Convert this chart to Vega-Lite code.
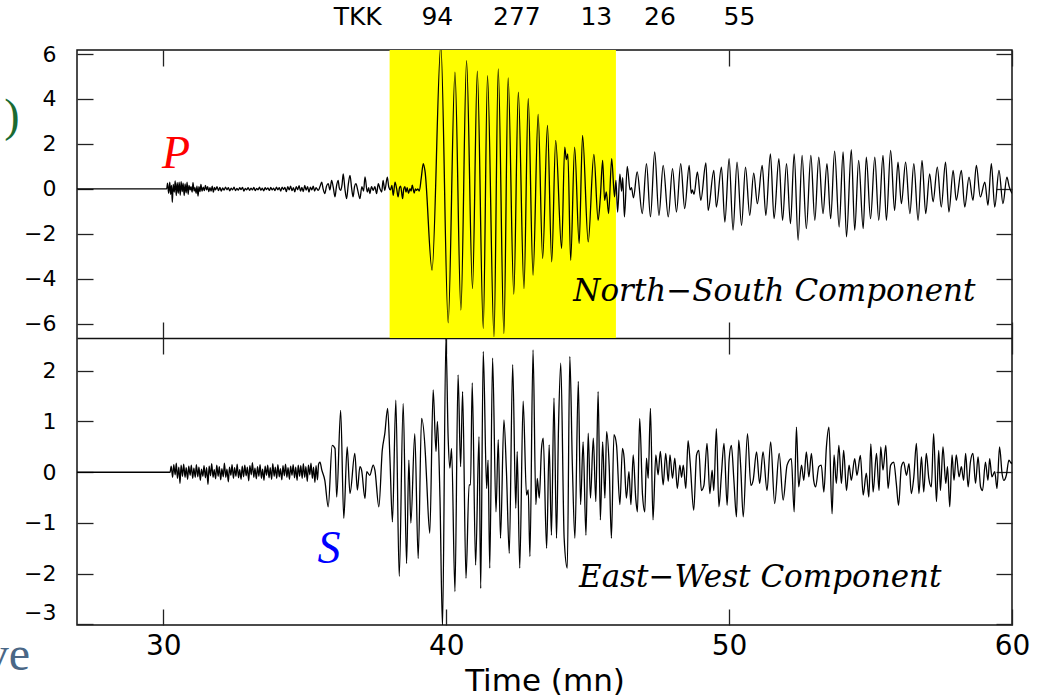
{
"$schema": "https://vega.github.io/schema/vega-lite/v6.json",
"autosize": {"type": "none"},
"width": 935,
"height": 575,
"padding": {"left": 77, "top": 50, "right": 35, "bottom": 74},
"background": "white",
"title": {"text": "TKK\u00a0\u00a0\u00a0\u00a0\u00a094\u00a0\u00a0\u00a0\u00a0\u00a0277\u00a0\u00a0\u00a0\u00a0\u00a013\u00a0\u00a0\u00a0\u00a026\u00a0\u00a0\u00a0\u00a0\u00a0\u00a055", "font": "DejaVu Sans", "fontSize": 25, "fontWeight": "normal", "color": "#000", "anchor": "middle", "frame": "group", "baseline": "alphabetic", "offset": -7},
"config": {
  "view": {"stroke": "#111", "strokeWidth": 1.5},
  "axis": {"labelFont": "DejaVu Sans", "labelColor": "#000", "tickColor": "#222", "tickWidth": 1.3, "titleFont": "DejaVu Sans", "titleFontWeight": "normal", "titleColor": "#000", "grid": false, "domain": false, "domainColor": "#111", "domainWidth": 1.6}
},
"resolve": {"scale": {"y": "independent"}, "axis": {"x": "independent", "y": "independent"}},
"datasets": {
"ns": [
{"t":26.95,"v":0},{"t":30.12,"v":0},{"t":30.15,"v":0.25},{"t":30.19,"v":-0.2},{"t":30.23,"v":0.3},{"t":30.26,"v":-0.25},{"t":30.29,"v":0.15},{"t":30.32,"v":-0.6},{"t":30.35,"v":0.2},{"t":30.39,"v":-0.15},{"t":30.42,"v":0.35},{"t":30.46,"v":-0.3},{"t":30.49,"v":0.28},{"t":30.53,"v":-0.2},{"t":30.56,"v":0.3},{"t":30.6,"v":-0.28},{"t":30.63,"v":0.32},{"t":30.67,"v":-0.12},{"t":30.7,"v":0.25},{"t":30.74,"v":-0.3},{"t":30.77,"v":0.22},{"t":30.81,"v":-0.18},{"t":30.84,"v":0.3},{"t":30.88,"v":-0.25},{"t":30.91,"v":0.15},{"t":30.95,"v":-0.05},{"t":30.98,"v":0.1},{"t":31.02,"v":-0.15},{"t":31.05,"v":0.28},{"t":31.09,"v":-0.1},{"t":31.12,"v":0.05},{"t":31.16,"v":-0.2},{"t":31.19,"v":0.12},{"t":31.23,"v":-0.32},{"t":31.26,"v":0.1},{"t":31.3,"v":-0.12},{"t":31.33,"v":0.2},{"t":31.37,"v":-0.1},{"t":31.41,"v":0.08},{"t":31.45,"v":-0.08},{"t":31.49,"v":0.15},{"t":31.53,"v":-0.05},{"t":31.57,"v":0.1},{"t":31.61,"v":-0.12},{"t":31.65,"v":0.05},{"t":31.69,"v":-0.1},{"t":31.73,"v":0.12},{"t":31.77,"v":-0.15},{"t":31.81,"v":0.06},{"t":31.85,"v":-0.05},{"t":31.9,"v":0.1},
{"t":31.95,"v":-0.08},{"t":32.0,"v":0.06},{"t":32.05,"v":-0.1},{"t":32.1,"v":0.04},{"t":32.15,"v":-0.06},{"t":32.2,"v":0.08},{"t":32.25,"v":-0.04},{"t":32.3,"v":0.05},{"t":32.35,"v":-0.09},{"t":32.4,"v":0.03},{"t":32.45,"v":-0.05},{"t":32.5,"v":0.07},{"t":32.55,"v":-0.08},{"t":32.6,"v":0.02},{"t":32.65,"v":-0.06},{"t":32.7,"v":0.05},{"t":32.75,"v":-0.03},{"t":32.8,"v":0.06},{"t":32.85,"v":-0.1},{"t":32.9,"v":0.02},{"t":32.95,"v":-0.04},{"t":33.0,"v":0.05},{"t":33.05,"v":-0.07},{"t":33.1,"v":0.03},{"t":33.15,"v":-0.05},{"t":33.2,"v":0.06},{"t":33.25,"v":-0.08},{"t":33.3,"v":0.02},{"t":33.35,"v":-0.04},{"t":33.4,"v":0.07},{"t":33.45,"v":-0.06},{"t":33.5,"v":0.03},{"t":33.55,"v":-0.09},{"t":33.6,"v":0.05},{"t":33.65,"v":-0.03},{"t":33.7,"v":0.04},{"t":33.75,"v":-0.07},{"t":33.8,"v":0.06},{"t":33.85,"v":-0.05},{"t":33.9,"v":0.03},{"t":33.95,"v":-0.08},{"t":34.0,"v":0.07},{"t":34.05,"v":-0.04},{"t":34.1,"v":0.05},{"t":34.15,"v":-0.1},{"t":34.2,"v":0.08},{"t":34.25,"v":-0.03},{"t":34.3,"v":0.06},{"t":34.35,"v":-0.12},{"t":34.4,"v":0.1},{"t":34.45,"v":-0.05},{"t":34.5,"v":0.12},{"t":34.55,"v":-0.08},{"t":34.6,"v":0.05},{"t":34.65,"v":-0.13},{"t":34.7,"v":0.1},{"t":34.75,"v":-0.04},{"t":34.8,"v":0.14},{"t":34.85,"v":-0.1},{"t":34.9,"v":0.06},{"t":34.95,"v":-0.12},{"t":35.0,"v":0.15},{"t":35.05,"v":-0.06},{"t":35.1,"v":0.1},{"t":35.15,"v":-0.14},{"t":35.2,"v":0.08},{"t":35.25,"v":-0.05},{"t":35.3,"v":0.12},{"t":35.35,"v":-0.1},{"t":35.4,"v":0.05},
{"t":35.48,"v":-0.07},{"t":35.54,"v":0.1},{"t":35.6,"v":0.3},{"t":35.65,"v":0.0},{"t":35.71,"v":-0.21},{"t":35.77,"v":0.12},{"t":35.83,"v":0.23},{"t":35.89,"v":-0.05},{"t":35.95,"v":0.38},{"t":36.01,"v":0.05},{"t":36.07,"v":-0.36},{"t":36.12,"v":0.1},{"t":36.18,"v":0.38},{"t":36.22,"v":0.05},{"t":36.27,"v":-0.07},{"t":36.32,"v":0.2},{"t":36.36,"v":0.67},{"t":36.42,"v":0.0},{"t":36.48,"v":-0.44},{"t":36.54,"v":0.2},{"t":36.6,"v":0.6},{"t":36.66,"v":0.0},{"t":36.71,"v":-0.36},{"t":36.76,"v":0.1},{"t":36.81,"v":0.23},{"t":36.88,"v":-0.1},{"t":36.95,"v":-0.44},{"t":37.02,"v":0.1},{"t":37.08,"v":-0.1},{"t":37.13,"v":0.53},{"t":37.21,"v":-0.14},{"t":37.26,"v":0.05},{"t":37.3,"v":-0.21},{"t":37.36,"v":0.1},{"t":37.42,"v":-0.07},{"t":37.48,"v":0.1},{"t":37.54,"v":-0.21},{"t":37.6,"v":0.23},{"t":37.66,"v":0.0},{"t":37.72,"v":-0.14},{"t":37.77,"v":0.38},{"t":37.83,"v":-0.07},{"t":37.92,"v":0.52},{"t":37.97,"v":0.08},{"t":38.03,"v":-0.05},{"t":38.08,"v":0.15},{"t":38.13,"v":-0.29},{"t":38.19,"v":0.3},{"t":38.25,"v":0.0},{"t":38.3,"v":-0.36},{"t":38.35,"v":0.05},{"t":38.39,"v":0.12},{"t":38.46,"v":-0.44},{"t":38.5,"v":0.0},{"t":38.54,"v":0.1},{"t":38.58,"v":-0.15},{"t":38.62,"v":0.05},{"t":38.67,"v":-0.2},{"t":38.72,"v":0.01},{"t":38.76,"v":-0.1},{"t":38.8,"v":0.16},{"t":38.87,"v":-0.19},{"t":38.91,"v":0.0},{"t":38.95,"v":-0.07},{"t":39.0,"v":0.0},{"t":39.05,"v":-0.1},{"t":39.12,"v":0.5},{"t":39.19,"v":1.12},{"t":39.25,"v":0.8},{"t":39.5,"v":-3.62},{"t":39.81,"v":6.4},{"t":40.07,"v":-5.96},{"t":40.31,"v":5.19},{"t":40.52,"v":-5.4},{"t":40.72,"v":5.71},{"t":40.93,"v":-4.44},{"t":41.1,"v":5.24},{"t":41.31,"v":-6.21},{"t":41.46,"v":5.04},{"t":41.69,"v":-6.58},{"t":41.84,"v":5.34},{"t":42.04,"v":-6.44},{"t":42.19,"v":4.94},{"t":42.39,"v":-4.69},{"t":42.55,"v":4.3},{"t":42.75,"v":-4.44},{"t":42.9,"v":4.01},{"t":43.07,"v":-3.84},{"t":43.25,"v":3.31},{"t":43.41,"v":-3.1},{"t":43.58,"v":2.82},{"t":43.73,"v":-3.25},{"t":43.87,"v":2.16},{"t":44.08,"v":-2.66},{"t":44.19,"v":1.86},{"t":44.25,"v":1.3},{"t":44.3,"v":1.56},{"t":44.4,"v":-3.18},{"t":44.54,"v":1.86},{"t":44.7,"v":-2.44},{"t":44.82,"v":2.38},{"t":45.02,"v":-2.36},{"t":45.22,"v":1.53},{"t":45.37,"v":-1.4},{"t":45.45,"v":-0.36},{"t":45.53,"v":1.27},{"t":45.6,"v":-0.51},{"t":45.66,"v":-0.14},{"t":45.74,"v":-1.1},{"t":45.85,"v":1.34},{"t":45.95,"v":-0.36},{"t":46.0,"v":0.38},{"t":46.06,"v":-1.03},{"t":46.14,"v":0.65},{"t":46.2,"v":-0.1},{"t":46.24,"v":0.5},{"t":46.3,"v":-1.25},{"t":46.4,"v":1.0},{"t":46.5,"v":-0.05},{"t":46.55,"v":0.05},{"t":46.62,"v":-0.4},{"t":46.75,"v":0.75},{"t":46.93,"v":-1.1},{"t":47.08,"v":1.12},{"t":47.22,"v":-1.25},{"t":47.37,"v":1.64},{"t":47.52,"v":-1.18},{"t":47.67,"v":1.04},{"t":47.85,"v":-1.25},{"t":48.0,"v":0.9},{"t":48.14,"v":-1.03},{"t":48.29,"v":1.12},{"t":48.43,"v":-0.88},{"t":48.59,"v":1.04},{"t":48.66,"v":-0.2},{"t":48.7,"v":-0.05},{"t":48.76,"v":-0.25},{"t":48.88,"v":0.75},{"t":49.0,"v":-0.51},{"t":49.18,"v":1.15},{"t":49.26,"v":-0.96},{"t":49.46,"v":0.82},{"t":49.55,"v":-0.81},{"t":49.73,"v":0.97},{"t":49.85,"v":-1.48},{"t":50.0,"v":1.34},{"t":50.14,"v":-1.84},{"t":50.28,"v":1.19},{"t":50.44,"v":-1.62},{"t":50.58,"v":0.97},{"t":50.73,"v":-1.18},{"t":50.87,"v":0.7},{"t":51.0,"v":-0.66},{"t":51.17,"v":1.04},{"t":51.3,"v":-1.18},{"t":51.46,"v":1.56},{"t":51.59,"v":-1.33},{"t":51.76,"v":1.34},{"t":51.89,"v":-1.4},{"t":52.03,"v":1.12},{"t":52.17,"v":-1.55},{"t":52.3,"v":1.56},{"t":52.44,"v":-2.29},{"t":52.58,"v":1.49},{"t":52.73,"v":-1.77},{"t":52.89,"v":1.49},{"t":53.03,"v":-1.4},{"t":53.17,"v":1.41},{"t":53.32,"v":-1.1},{"t":53.46,"v":1.12},{"t":53.59,"v":-1.33},{"t":53.73,"v":1.68},{"t":53.89,"v":-1.7},{"t":54.03,"v":1.64},{"t":54.15,"v":-2.14},{"t":54.32,"v":1.74},{"t":54.44,"v":-1.84},{"t":54.58,"v":1.27},{"t":54.74,"v":-1.77},{"t":54.85,"v":1.41},{"t":55.0,"v":-1.33},{"t":55.15,"v":1.41},{"t":55.29,"v":-1.4},{"t":55.44,"v":1.49},{"t":55.56,"v":-1.4},{"t":55.71,"v":1.71},{"t":55.85,"v":-0.96},{"t":55.97,"v":1.19},{"t":56.09,"v":-0.66},{"t":56.24,"v":1.19},{"t":56.39,"v":-1.1},{"t":56.53,"v":1.12},{"t":56.68,"v":-1.4},{"t":56.82,"v":1.27},{"t":56.95,"v":-1.1},{"t":57.09,"v":0.67},{"t":57.21,"v":-0.58},{"t":57.36,"v":0.97},{"t":57.5,"v":-0.81},{"t":57.65,"v":1.19},{"t":57.77,"v":-1.03},{"t":57.92,"v":0.82},{"t":58.03,"v":-0.51},{"t":58.21,"v":0.82},{"t":58.33,"v":-0.81},{"t":58.48,"v":0.52},{"t":58.62,"v":-0.51},{"t":58.74,"v":1.04},{"t":58.88,"v":-0.36},{"t":59.04,"v":0.3},{"t":59.15,"v":-0.73},{"t":59.27,"v":1.12},{"t":59.39,"v":-0.81},{"t":59.54,"v":0.82},{"t":59.68,"v":-0.66},{"t":59.82,"v":0.52},{"t":59.9,"v":0.1},{"t":60.0,"v":-0.2}
],
"ew": [
{"t":26.95,"v":0},{"t":30.24,"v":0},{"t":30.28,"v":0.12},{"t":30.33,"v":-0.1},{"t":30.37,"v":0.15},{"t":30.42,"v":-0.05},{"t":30.46,"v":0.18},{"t":30.5,"v":-0.12},{"t":30.55,"v":0.1},{"t":30.59,"v":-0.22},{"t":30.63,"v":0.14},{"t":30.68,"v":-0.08},{"t":30.72,"v":0.16},{"t":30.77,"v":-0.1},{"t":30.81,"v":0.09},{"t":30.86,"v":-0.14},{"t":30.9,"v":0.12},{"t":30.95,"v":-0.06},{"t":30.99,"v":0.14},{"t":31.04,"v":-0.12},{"t":31.08,"v":0.08},{"t":31.13,"v":-0.1},{"t":31.17,"v":0.15},{"t":31.22,"v":-0.09},{"t":31.26,"v":0.1},{"t":31.31,"v":-0.16},{"t":31.35,"v":0.06},{"t":31.4,"v":-0.08},{"t":31.44,"v":0.13},{"t":31.49,"v":-0.11},{"t":31.53,"v":0.09},{"t":31.58,"v":-0.24},{"t":31.62,"v":0.12},{"t":31.67,"v":-0.07},{"t":31.71,"v":0.17},{"t":31.76,"v":-0.1},{"t":31.8,"v":0.05},{"t":31.85,"v":-0.13},{"t":31.89,"v":0.14},{"t":31.94,"v":-0.08},{"t":31.98,"v":0.11},{"t":32.03,"v":-0.15},{"t":32.07,"v":0.07},{"t":32.12,"v":-0.09},{"t":32.16,"v":0.18},{"t":32.21,"v":-0.1},{"t":32.25,"v":0.06},{"t":32.3,"v":-0.19},{"t":32.34,"v":0.1},{"t":32.39,"v":-0.06},{"t":32.43,"v":0.15},{"t":32.48,"v":-0.12},{"t":32.52,"v":0.09},{"t":32.57,"v":-0.08},{"t":32.61,"v":0.16},{"t":32.66,"v":-0.11},{"t":32.7,"v":0.05},{"t":32.75,"v":-0.14},{"t":32.79,"v":0.12},{"t":32.84,"v":-0.09},{"t":32.88,"v":0.14},{"t":32.93,"v":-0.07},{"t":32.97,"v":0.1},{"t":33.02,"v":-0.17},{"t":33.06,"v":0.13},{"t":33.11,"v":-0.05},{"t":33.15,"v":0.19},{"t":33.2,"v":-0.1},{"t":33.24,"v":0.08},{"t":33.29,"v":-0.13},{"t":33.33,"v":0.11},{"t":33.38,"v":-0.08},{"t":33.42,"v":0.15},{"t":33.47,"v":-0.12},{"t":33.51,"v":0.06},{"t":33.56,"v":-0.16},{"t":33.6,"v":0.12},{"t":33.65,"v":-0.06},{"t":33.69,"v":0.14},{"t":33.74,"v":-0.11},{"t":33.78,"v":0.09},{"t":33.83,"v":-0.14},{"t":33.87,"v":0.17},{"t":33.92,"v":-0.08},{"t":33.96,"v":0.1},{"t":34.01,"v":-0.12},{"t":34.05,"v":0.15},{"t":34.1,"v":-0.09},{"t":34.14,"v":0.07},{"t":34.19,"v":-0.15},{"t":34.23,"v":0.13},{"t":34.28,"v":-0.07},{"t":34.32,"v":0.16},{"t":34.37,"v":-0.1},{"t":34.41,"v":0.09},{"t":34.46,"v":-0.14},{"t":34.5,"v":0.12},{"t":34.55,"v":-0.06},{"t":34.59,"v":0.15},{"t":34.64,"v":-0.11},{"t":34.68,"v":0.1},{"t":34.73,"v":-0.16},{"t":34.77,"v":0.14},{"t":34.82,"v":-0.08},{"t":34.86,"v":0.13},{"t":34.91,"v":-0.12},{"t":34.95,"v":0.17},{"t":35.0,"v":-0.1},{"t":35.04,"v":0.11},{"t":35.09,"v":-0.18},{"t":35.13,"v":0.14},{"t":35.18,"v":-0.05},{"t":35.22,"v":0.18},{"t":35.27,"v":-0.12},{"t":35.31,"v":0.1},{"t":35.36,"v":-0.2},{"t":35.4,"v":0.13},{"t":35.45,"v":-0.15},{"t":35.49,"v":0.16},{"t":35.54,"v":0.2},{"t":35.6,"v":0.05},{"t":35.71,"v":-0.16},{"t":35.83,"v":-0.68},{"t":35.97,"v":0.53},{"t":36.07,"v":0.47},{"t":36.13,"v":-0.49},{"t":36.27,"v":1.22},{"t":36.38,"v":-0.91},{"t":36.5,"v":0.5},{"t":36.6,"v":-0.42},{"t":36.77,"v":0.37},{"t":36.86,"v":-0.35},{"t":36.95,"v":0.11},{"t":37.01,"v":0.04},{"t":37.13,"v":-0.52},{"t":37.19,"v":0.01},{"t":37.3,"v":-0.06},{"t":37.42,"v":0.14},{"t":37.48,"v":0.04},{"t":37.62,"v":-0.68},{"t":37.74,"v":0.43},{"t":37.83,"v":0.76},{"t":37.93,"v":1.26},{"t":38.01,"v":0.3},{"t":38.1,"v":-0.98},{"t":38.22,"v":1.42},{"t":38.34,"v":-2.05},{"t":38.48,"v":1.35},{"t":38.6,"v":-1.8},{"t":38.68,"v":0.24},{"t":38.75,"v":-1.0},{"t":38.89,"v":0.76},{"t":39.01,"v":-1.7},{"t":39.13,"v":1.06},{"t":39.27,"v":0.3},{"t":39.31,"v":-0.16},{"t":39.42,"v":-1.2},{"t":39.54,"v":1.62},{"t":39.64,"v":0.41},{"t":39.69,"v":1.0},{"t":39.78,"v":-0.5},{"t":39.87,"v":-3.05},{"t":39.99,"v":2.63},{"t":40.07,"v":0.67},{"t":40.13,"v":0.08},{"t":40.19,"v":0.47},{"t":40.31,"v":-2.35},{"t":40.42,"v":1.92},{"t":40.51,"v":0.11},{"t":40.58,"v":1.59},{"t":40.7,"v":-2.09},{"t":40.81,"v":-0.25},{"t":40.86,"v":-0.25},{"t":40.92,"v":1.76},{"t":41.04,"v":-1.83},{"t":41.16,"v":0.7},{"t":41.22,"v":-2.29},{"t":41.31,"v":2.38},{"t":41.43,"v":-0.32},{"t":41.48,"v":0.24},{"t":41.54,"v":-1.89},{"t":41.64,"v":2.25},{"t":41.76,"v":-0.78},{"t":41.84,"v":0.64},{"t":41.92,"v":-1.3},{"t":42.04,"v":1.03},{"t":42.13,"v":0.01},{"t":42.23,"v":-1.6},{"t":42.35,"v":2.12},{"t":42.46,"v":-0.71},{"t":42.51,"v":0.41},{"t":42.6,"v":-1.89},{"t":42.72,"v":1.4},{"t":42.84,"v":-0.45},{"t":42.9,"v":-0.35},{"t":42.96,"v":-1.66},{"t":43.07,"v":2.41},{"t":43.17,"v":-0.64},{"t":43.22,"v":-0.12},{"t":43.29,"v":-0.51},{"t":43.37,"v":0.47},{"t":43.43,"v":0.67},{"t":43.55,"v":-1.5},{"t":43.64,"v":0.54},{"t":43.72,"v":-1.24},{"t":43.81,"v":1.46},{"t":43.9,"v":-1.3},{"t":43.97,"v":0.87},{"t":44.05,"v":2.15},{"t":44.17,"v":-1.3},{"t":44.28,"v":-1.89},{"t":44.37,"v":2.28},{"t":44.46,"v":0.14},{"t":44.55,"v":-1.3},{"t":44.67,"v":1.79},{"t":44.75,"v":-0.64},{"t":44.84,"v":0.6},{"t":44.94,"v":-1.24},{"t":45.02,"v":0.77},{"t":45.1,"v":-0.51},{"t":45.2,"v":0.67},{"t":45.29,"v":-0.58},{"t":45.37,"v":1.59},{"t":45.45,"v":-0.94},{"t":45.53,"v":0.6},{"t":45.61,"v":-0.51},{"t":45.67,"v":0.8},{"t":45.76,"v":0.14},{"t":45.84,"v":-1.3},{"t":45.93,"v":0.74},{"t":46.02,"v":0.54},{"t":46.14,"v":-0.64},{"t":46.23,"v":0.47},{"t":46.29,"v":0.28},{"t":46.37,"v":-0.51},{"t":46.46,"v":0.01},{"t":46.53,"v":-0.64},{"t":46.61,"v":0.34},{"t":46.7,"v":-0.51},{"t":46.76,"v":-0.78},{"t":46.84,"v":1.06},{"t":46.94,"v":-0.45},{"t":47.02,"v":-0.78},{"t":47.08,"v":0.28},{"t":47.14,"v":-0.12},{"t":47.22,"v":1.26},{"t":47.31,"v":-0.94},{"t":47.41,"v":0.34},{"t":47.49,"v":-0.05},{"t":47.57,"v":0.41},{"t":47.67,"v":-0.25},{"t":47.76,"v":0.37},{"t":47.85,"v":-0.18},{"t":47.91,"v":0.34},{"t":48.0,"v":-0.12},{"t":48.08,"v":0.28},{"t":48.17,"v":-0.32},{"t":48.26,"v":0.14},{"t":48.32,"v":-0.1},{"t":48.38,"v":0.14},{"t":48.47,"v":-0.32},{"t":48.55,"v":0.62},{"t":48.62,"v":0.22},{"t":48.75,"v":-0.75},{"t":48.85,"v":0.34},{"t":48.93,"v":0.43},{"t":49.02,"v":-0.36},{"t":49.11,"v":-0.26},{"t":49.22,"v":0.57},{"t":49.32,"v":-0.42},{"t":49.4,"v":0.04},{"t":49.46,"v":-0.36},{"t":49.55,"v":0.86},{"t":49.64,"v":-0.68},{"t":49.73,"v":-0.03},{"t":49.82,"v":0.57},{"t":49.93,"v":-0.65},{"t":50.0,"v":0.24},{"t":50.08,"v":0.53},{"t":50.17,"v":-0.16},{"t":50.26,"v":-0.88},{"t":50.34,"v":0.63},{"t":50.41,"v":0.11},{"t":50.5,"v":-0.88},{"t":50.65,"v":0.76},{"t":50.77,"v":-0.26},{"t":50.85,"v":-0.16},{"t":50.97,"v":0.4},{"t":51.08,"v":-0.22},{"t":51.2,"v":0.4},{"t":51.34,"v":-0.36},{"t":51.47,"v":0.6},{"t":51.61,"v":-0.62},{"t":51.77,"v":0.37},{"t":51.91,"v":-0.55},{"t":52.05,"v":0.14},{"t":52.2,"v":0.27},{"t":52.3,"v":-0.78},{"t":52.38,"v":0.89},{"t":52.46,"v":-0.29},{"t":52.56,"v":0.14},{"t":52.64,"v":-0.16},{"t":52.73,"v":0.4},{"t":52.82,"v":-0.09},{"t":52.91,"v":0.37},{"t":52.99,"v":-0.16},{"t":53.06,"v":-0.29},{"t":53.17,"v":0.11},{"t":53.26,"v":0.14},{"t":53.35,"v":-0.39},{"t":53.44,"v":0.5},{"t":53.53,"v":0.89},{"t":53.64,"v":-0.82},{"t":53.71,"v":0.34},{"t":53.79,"v":-0.22},{"t":53.88,"v":0.53},{"t":53.97,"v":-0.22},{"t":54.05,"v":0.43},{"t":54.15,"v":-0.36},{"t":54.24,"v":0.14},{"t":54.32,"v":-0.16},{"t":54.44,"v":0.27},{"t":54.52,"v":-0.06},{"t":54.64,"v":0.33},{"t":54.74,"v":-0.45},{"t":54.85,"v":-0.02},{"t":54.94,"v":-0.49},{"t":55.01,"v":0.56},{"t":55.09,"v":-0.39},{"t":55.21,"v":0.37},{"t":55.3,"v":-0.36},{"t":55.36,"v":0.5},{"t":55.44,"v":0.04},{"t":55.54,"v":0.53},{"t":55.62,"v":-0.32},{"t":55.71,"v":0.14},{"t":55.82,"v":0.2},{"t":55.91,"v":-0.22},{"t":55.99,"v":-0.65},{"t":56.09,"v":0.11},{"t":56.17,"v":0.2},{"t":56.27,"v":-0.06},{"t":56.36,"v":0.17},{"t":56.44,"v":-0.42},{"t":56.53,"v":-0.09},{"t":56.62,"v":0.57},{"t":56.71,"v":-0.42},{"t":56.8,"v":0.3},{"t":56.88,"v":-0.39},{"t":56.97,"v":0.37},{"t":57.06,"v":-0.12},{"t":57.15,"v":-0.29},{"t":57.23,"v":0.76},{"t":57.33,"v":-0.58},{"t":57.41,"v":0.43},{"t":57.47,"v":-0.36},{"t":57.56,"v":0.5},{"t":57.66,"v":-0.22},{"t":57.72,"v":0.11},{"t":57.8,"v":-0.68},{"t":57.88,"v":0.34},{"t":57.95,"v":-0.16},{"t":58.03,"v":0.34},{"t":58.13,"v":-0.09},{"t":58.21,"v":0.11},{"t":58.29,"v":-0.16},{"t":58.36,"v":0.37},{"t":58.45,"v":-0.29},{"t":58.53,"v":0.2},{"t":58.62,"v":0.37},{"t":58.71,"v":-0.22},{"t":58.8,"v":0.3},{"t":58.89,"v":-0.29},{"t":58.96,"v":-0.36},{"t":59.06,"v":0.2},{"t":59.15,"v":-0.16},{"t":59.21,"v":0.27},{"t":59.29,"v":-0.09},{"t":59.39,"v":0.01},{"t":59.47,"v":-0.32},{"t":59.56,"v":0.5},{"t":59.65,"v":-0.03},{"t":59.71,"v":-0.16},{"t":59.8,"v":-0.06},{"t":59.89,"v":0.24},{"t":59.98,"v":0.17},{"t":60.0,"v":0.2}
]
},
"layer": [
  {"data": {"values": [{"s": 38, "e": 46}]},
   "mark": {"type": "rect", "color": "#ffff00"},
   "encoding": {
     "x": {"field": "s", "type": "quantitative", "scale": {"domain": [26.95, 60], "nice": false, "zero": false}, "axis": null},
     "x2": {"field": "e"},
     "y": {"datum": 6.18, "type": "quantitative", "scale": {"domain": [-19.415, 6.18], "nice": false, "zero": false}, "axis": null},
     "y2": {"datum": -6.64}}},
  {"data": {"name": "ns"},
   "mark": {"type": "line", "color": "#000", "strokeWidth": 1.3, "clip": true, "interpolate": "monotone"},
   "encoding": {
     "x": {"field": "t", "type": "quantitative", "scale": {"domain": [26.95, 60], "nice": false, "zero": false},
           "axis": {"orient": "bottom", "offset": -287, "values": [30, 40, 50, 60], "labels": false, "title": null, "tickSize": -16, "domain": true}},
     "y": {"field": "v", "type": "quantitative", "scale": {"domain": [-19.415, 6.18], "nice": false, "zero": false},
           "axis": {"orient": "left", "values": [-6, -4, -2, 0, 2, 4, 6], "title": null, "tickSize": -16, "labelPadding": 37, "labelFontSize": 22}}}},
  {"data": {"name": "ew"},
   "mark": {"type": "line", "color": "#000", "strokeWidth": 1.3, "clip": true, "interpolate": "monotone"},
   "encoding": {
     "x": {"field": "t", "type": "quantitative", "scale": {"domain": [26.95, 60], "nice": false, "zero": false},
           "axis": {"orient": "bottom", "values": [30, 40, 50, 60], "title": "Time (mn)", "tickSize": -16, "labelFontSize": 28, "labelPadding": 23, "labelFlush": false, "titleFontSize": 31, "titlePadding": 6}},
     "y": {"field": "v", "type": "quantitative", "scale": {"domain": [-3.01, 8.3196], "nice": false, "zero": false},
           "axis": {"orient": "left", "values": [-3, -2, -1, 0, 1, 2], "title": null, "tickSize": -16, "labelPadding": 37, "labelFontSize": 22, "labelFlush": 2}}}},
  {"data": {"values": [{"t": 51.6, "v": -4.6, "txt": "North\u2212South Component"}]},
   "mark": {"type": "text", "font": "DejaVu Serif", "fontStyle": "italic", "fontSize": 31, "color": "#000", "align": "center", "baseline": "middle"},
   "encoding": {
     "x": {"field": "t", "type": "quantitative", "scale": {"domain": [26.95, 60], "nice": false, "zero": false},
           "axis": {"orient": "top", "values": [30, 40, 50, 60], "labels": false, "title": null, "tickSize": -16}},
     "y": {"field": "v", "type": "quantitative", "scale": {"domain": [-19.415, 6.18], "nice": false, "zero": false},
           "axis": {"orient": "right", "values": [-6, -4, -2, 0, 2, 4, 6], "labels": false, "title": null, "tickSize": -16}},
     "text": {"field": "txt"}}},
  {"data": {"values": [{"t": 51.1, "v": -2.09, "txt": "East\u2212West Component"}]},
   "mark": {"type": "text", "font": "DejaVu Serif", "fontStyle": "italic", "fontSize": 31, "color": "#000", "align": "center", "baseline": "middle"},
   "encoding": {
     "x": {"field": "t", "type": "quantitative", "scale": {"domain": [26.95, 60], "nice": false, "zero": false},
           "axis": {"orient": "top", "offset": -288, "values": [30, 40, 50, 60], "labels": false, "title": null, "tickSize": -16}},
     "y": {"field": "v", "type": "quantitative", "scale": {"domain": [-3.01, 8.3196], "nice": false, "zero": false},
           "axis": {"orient": "right", "values": [-3, -2, -1, 0, 1, 2], "labels": false, "title": null, "tickSize": -16}},
     "text": {"field": "txt"}}},
  {"data": {"values": [{"t": 30.45, "v": 1.53, "txt": "P"}]},
   "mark": {"type": "text", "font": "Liberation Serif", "fontStyle": "italic", "fontSize": 46, "color": "#ff0000", "align": "center", "baseline": "middle"},
   "encoding": {
     "x": {"field": "t", "type": "quantitative", "axis": null},
     "y": {"field": "v", "type": "quantitative", "scale": {"domain": [-19.415, 6.18], "nice": false, "zero": false}, "axis": null},
     "text": {"field": "txt"}}},
  {"data": {"values": [{"t": 24.65, "v": 3.18, "txt": ")"}]},
   "mark": {"type": "text", "font": "Liberation Serif", "fontSize": 46, "color": "#1a6b32", "align": "center", "baseline": "middle"},
   "encoding": {
     "x": {"field": "t", "type": "quantitative", "axis": null},
     "y": {"field": "v", "type": "quantitative", "scale": {"domain": [-19.415, 6.18], "nice": false, "zero": false}, "axis": null},
     "text": {"field": "txt"}}},
  {"data": {"values": [{"t": 35.86, "v": -1.52, "txt": "S"}]},
   "mark": {"type": "text", "font": "Liberation Serif", "fontStyle": "italic", "fontSize": 46, "color": "#0000ff", "align": "center", "baseline": "middle"},
   "encoding": {
     "x": {"field": "t", "type": "quantitative", "axis": null},
     "y": {"field": "v", "type": "quantitative", "scale": {"domain": [-3.01, 8.3196], "nice": false, "zero": false}, "axis": null},
     "text": {"field": "txt"}}},
  {"data": {"values": [{"t": 25.289, "v": -3.897, "txt": "ve"}]},
   "mark": {"type": "text", "font": "Liberation Serif", "fontSize": 48, "color": "#4a6786", "align": "right", "baseline": "alphabetic"},
   "encoding": {
     "x": {"field": "t", "type": "quantitative", "axis": null},
     "y": {"field": "v", "type": "quantitative", "scale": {"domain": [-3.01, 8.3196], "nice": false, "zero": false}, "axis": null},
     "text": {"field": "txt"}}}
]
}
